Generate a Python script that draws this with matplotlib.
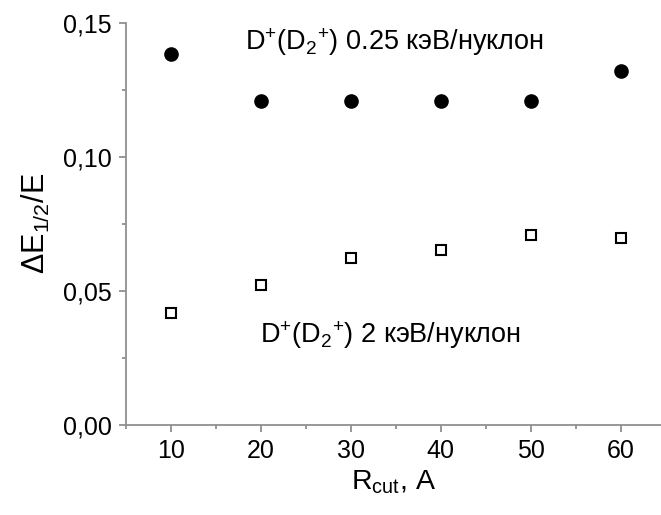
import matplotlib
matplotlib.use('Agg')
import matplotlib.pyplot as plt
from matplotlib.ticker import MultipleLocator, FuncFormatter

plt.rcParams['font.family'] = ['Liberation Sans', 'DejaVu Sans']
plt.rcParams['mathtext.default'] = 'regular'

r_cut = [10, 20, 30, 40, 50, 60]
de_025 = [0.1383, 0.1208, 0.1208, 0.1208, 0.1208, 0.1321]
de_2 = [0.0417, 0.0522, 0.0621, 0.0652, 0.0707, 0.0696]

label_025 = r'D$^{+}$(D$_{2}$$^{+}$) 0.25 кэВ/нуклон'
label_2 = r'D$^{+}$(D$_{2}$$^{+}$) 2 кэВ/нуклон'

fig = plt.figure(figsize=(6.61, 5.15), dpi=100)
ax = fig.add_axes([0.19, 0.1748, 0.81, 0.7812])

ax.plot(r_cut, de_025, 'o', color='black', markersize=9.5)
ax.plot(r_cut, de_2, 's', markerfacecolor='white', markeredgecolor='black',
        markersize=6.5, markeredgewidth=1.5)

ax.set_xlim(5, 64.5)
ax.set_ylim(0, 0.15)
ax.xaxis.set_major_locator(MultipleLocator(10))
ax.xaxis.set_minor_locator(MultipleLocator(5))
ax.yaxis.set_major_locator(MultipleLocator(0.05))
ax.yaxis.set_minor_locator(MultipleLocator(0.025))
ax.yaxis.set_major_formatter(FuncFormatter(lambda v, p: f'{v:.2f}'.replace('.', ',')))

for s in ['top', 'right']:
    ax.spines[s].set_visible(False)
for s in ['left', 'bottom']:
    ax.spines[s].set_color('#909090')
    ax.spines[s].set_linewidth(1.3)

ax.tick_params(which='both', direction='out', color='#909090', width=1.3)
ax.tick_params(which='major', length=5, labelsize=18, pad=5)
ax.tick_params(which='minor', length=3)

ax.set_xlabel(r'R$_{cut}$, A', fontsize=20.5, labelpad=4)
ax.set_ylabel(r'$\Delta$E$_{1/2}$/E', fontsize=22, labelpad=8)

ax.text(18.3, 0.1398, label_025, fontsize=19.5)
ax.text(19.9, 0.0305, label_2, fontsize=19.5)

fig.savefig('out.png', dpi=100)
